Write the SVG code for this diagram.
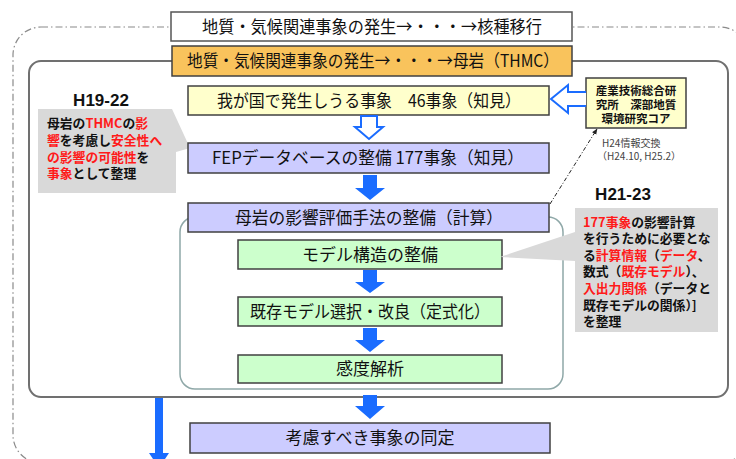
<svg xmlns="http://www.w3.org/2000/svg" width="736" height="459" viewBox="0 0 736 459">
<defs>
<style>
text{font-family:"Noto Sans CJK JP","Noto Sans",sans-serif;fill:#111}
.box{stroke:#404040;stroke-width:1.5}
.main{font-size:17px;text-anchor:middle}
.cal{font-size:12.8px;font-weight:700}
.r{fill:#ff1a1a}
.blue{fill:#1a6cff}
.hollow{fill:#fff;stroke:#1a6cff;stroke-width:2;stroke-linejoin:miter}
.hd{font-size:17px;font-weight:700;font-family:"Liberation Sans",Arial,sans-serif;text-anchor:middle}
.ai{font-size:11.5px;font-weight:700;text-anchor:middle}
.sm{font-size:10px;fill:#444}
</style>
<marker id="ah" viewBox="0 0 10 10" refX="9" refY="5" markerWidth="6" markerHeight="6" orient="auto"><path d="M0,1 L10,5 L0,9 Z" fill="#222"/></marker>
</defs>
<rect width="736" height="459" fill="#fff"/>
<g id="frames">
<rect x="13" y="27" width="735" height="436" rx="28" fill="none" stroke="#8a8a8a" stroke-width="1.2" stroke-dasharray="7 3 1.5 3"/>
<rect x="29" y="61" width="699" height="336" rx="12" fill="none" stroke="#707070" stroke-width="2"/>
<rect x="180" y="217" width="383" height="172" rx="15" fill="none" stroke="#8fa8a8" stroke-width="1.5"/>
</g>
<g id="top">
<rect x="171" y="12" width="401" height="29" fill="#fff" stroke="#555" stroke-width="1.5"/>
<text class="main" x="372" y="33" textLength="340" lengthAdjust="spacingAndGlyphs">地質・気候関連事象の発生→・・・→核種移行</text>
</g>
<g id="thmc">
<rect class="box" x="172" y="46" width="400" height="30" fill="#f9c35c"/>
<text class="main" x="373" y="67" textLength="372" lengthAdjust="spacingAndGlyphs">地質・気候関連事象の発生→・・・→母岩（THMC）</text>
</g>
<g id="h1922"><text class="hd" x="101" y="106">H19-22</text></g>
<g id="callout-left">
<path d="M38,109 H172 L190,148 L176,152 V193 H38 Z" fill="#d9d9d9"/>
<text class="cal" x="47" y="128">母岩の<tspan class="r">THMC</tspan>の<tspan class="r">影</tspan></text>
<text class="cal" x="47" y="145"><tspan class="r">響</tspan>を考慮し<tspan class="r">安全性へ</tspan></text>
<text class="cal" x="47" y="162"><tspan class="r">の影響の可能性</tspan>を</text>
<text class="cal" x="47" y="178"><tspan class="r">事象</tspan>として整理</text>
</g>
<g id="events46">
<rect class="box" x="188" y="86" width="361" height="29" fill="#ffffcc"/>
<text class="main" x="369" y="107" textLength="304" lengthAdjust="spacingAndGlyphs">我が国で発生しうる事象　46事象（知見）</text>
</g>
<g id="aist">
<rect class="box" x="586" y="78" width="100" height="50" fill="#ffffcc"/>
<text class="ai" x="636" y="95">産業技術総合研</text>
<text class="ai" x="636" y="109">究所　深部地質</text>
<text class="ai" x="636" y="123">環境研究コア</text>
</g>
<g id="fep">
<rect class="box" x="188" y="143" width="361" height="30" fill="#ccccff"/>
<text class="main" x="368" y="164" textLength="312" lengthAdjust="spacingAndGlyphs">FEPデータベースの整備 177事象（知見）</text>
</g>
<g id="eval">
<rect class="box" x="188" y="203" width="361" height="29" fill="#ccccff"/>
<text class="main" x="369" y="224" textLength="268" lengthAdjust="spacingAndGlyphs">母岩の影響評価手法の整備（計算）</text>
</g>
<g id="model">
<rect class="box" x="238" y="240" width="264" height="29" fill="#ccffcc"/>
<text class="main" x="370" y="261">モデル構造の整備</text>
</g>
<g id="select">
<rect class="box" x="238" y="297" width="264" height="29" fill="#ccffcc"/>
<text class="main" x="370" y="318" textLength="240" lengthAdjust="spacingAndGlyphs">既存モデル選択・改良（定式化）</text>
</g>
<g id="sens">
<rect class="box" x="238" y="355" width="264" height="28" fill="#ccffcc"/>
<text class="main" x="370" y="375">感度解析</text>
</g>
<g id="identify">
<rect class="box" x="190" y="423" width="360" height="30" fill="#ccccff"/>
<text class="main" x="370" y="444">考慮すべき事象の同定</text>
</g>
<g id="h2123"><text class="hd" x="623" y="200">H21-23</text></g>
<g id="callout-right">
<path d="M575,208 H718 V332 H575 V261 L500,257 L575,232 Z" fill="#d9d9d9"/>
<text class="cal" x="583" y="227"><tspan class="r">177事象</tspan>の影響計算</text>
<text class="cal" x="583" y="243">を行うために必要とな</text>
<text class="cal" x="583" y="260">る<tspan class="r">計算情報</tspan>（<tspan class="r">データ</tspan>、</text>
<text class="cal" x="583" y="276">数式（<tspan class="r">既存モデル</tspan>）、</text>
<text class="cal" x="583" y="293"><tspan class="r">入出力関係</tspan>（データと</text>
<text class="cal" x="583" y="310">既存モデルの関係）]</text>
<text class="cal" x="583" y="326">を整理</text>
</g>
<g id="exchange-label">
<text class="sm" x="602" y="147">H24情報交換</text>
<text class="sm" x="597" y="160">（H24.10, H25.2）</text>
</g>
<g id="connectors">
<path class="hollow" d="M361,116 H377 V127 H383 L369,139 L355,127 H361 Z"/>
<path class="hollow" d="M586,92 H568 V85 L551,99 L568,113 V106 H586"/>
<path class="blue" d="M363,175 H377 V188 H385 L370,200 L355,188 H363 Z"/>
<path class="blue" d="M363,270 H377 V282 H385 L370,293 L355,282 H363 Z"/>
<path class="blue" d="M363,328 H377 V340 H385 L370,352 L355,340 H363 Z"/>
<path class="blue" d="M363,395 H377 V406 H385 L370,419 L355,406 H363 Z"/>
<path class="blue" d="M155,398 H163 V453 H169 L159,468 L149,453 H155 Z"/>
<line x1="550" y1="204" x2="597" y2="129" stroke="#222" stroke-width="1" stroke-dasharray="4 2 1 2" marker-end="url(#ah)"/>
</g>
</svg>
